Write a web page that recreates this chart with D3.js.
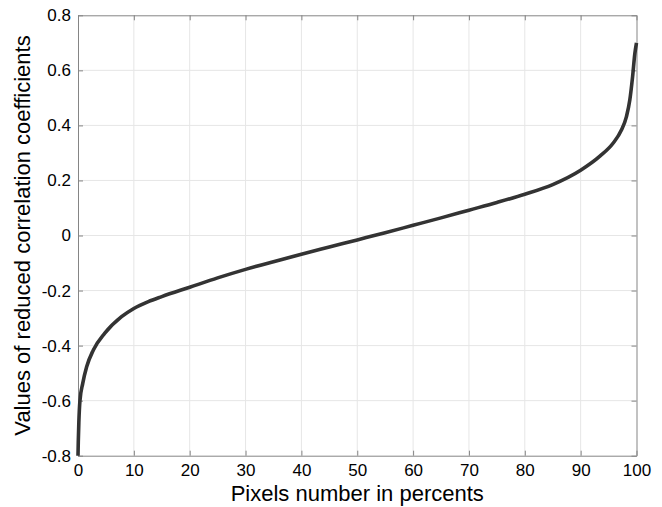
<!DOCTYPE html>
<html>
<head>
<meta charset="utf-8">
<script src="https://cdn.jsdelivr.net/npm/d3@7"></script>
<style>
  body { margin: 0; background: #fff; }
  text { font-family: "Liberation Sans", Arial, sans-serif; fill: #000; }
</style>
</head>
<body>
<svg id="chart" width="662" height="507"></svg>
<script>
// sorted reduced correlation coefficients
let percent = [0, 0.05, 0.15, 0.35, 0.85, 1.55, 2.75, 4.8, 7.8, 10, 12.6, 15, 20, 25, 30, 35,
  40, 45, 50, 55, 60, 65, 70, 75, 80, 85, 90, 93.5, 95.8, 97.3, 98.2, 98.8, 99.3, 99.7, 100]
let values = [-0.8, -0.75, -0.68, -0.6, -0.537, -0.477, -0.416, -0.355, -0.295, -0.265, -0.24,
  -0.222, -0.188, -0.154, -0.123, -0.095, -0.068, -0.042, -0.016, 0.01, 0.037, 0.064, 0.092,
  0.12, 0.15, 0.185, 0.237, 0.289, 0.335, 0.383, 0.432, 0.492, 0.577, 0.66, 0.70]

let xTicks = [0, 10, 20, 30, 40, 50, 60, 70, 80, 90, 100]
let yTicks = [-0.8, -0.6, -0.4, -0.2, 0, 0.2, 0.4, 0.6, 0.8]

let xLabel = "Pixels number in percents"
let yLabel = "Values of reduced correlation coefficients"

let margin = {top: 15.3, right: 25.5, bottom: 51.3, left: 78}
let width = 662, height = 507

let svg = d3.select("#chart")

let x = d3.scaleLinear()
  .domain([0, 100])
  .range([margin.left, width - margin.right])
let y = d3.scaleLinear()
  .domain([-0.8, 0.8])
  .range([height - margin.bottom, margin.top])

let axisColor = "#858585"
let gridColor = "#e6e6e6"

// grid
let grid = svg.append("g")
grid.selectAll(".gx")
  .data(xTicks.slice(1, -1)).enter()
  .append("line")
  .attr("x1", d => x(d)).attr("x2", d => x(d))
  .attr("y1", y(0.8)).attr("y2", y(-0.8))
  .attr("stroke", gridColor).attr("stroke-width", 1)
grid.selectAll(".gy")
  .data(yTicks.slice(1, -1)).enter()
  .append("line")
  .attr("x1", x(0)).attr("x2", x(100))
  .attr("y1", d => y(d)).attr("y2", d => y(d))
  .attr("stroke", gridColor).attr("stroke-width", 1)

// axes (MATLAB-like box, ticks inward on every side)
let fmt = d => d === 0 ? "0" : d3.format(".1f")(d).replace("−", "-")

function styleAxis(g, labels) {
  g.select(".domain").attr("stroke", axisColor)
  g.selectAll(".tick line").attr("stroke", axisColor)
  g.selectAll(".tick text")
    .style("font-size", "17px")
    .style("font-family", "'Liberation Sans', Arial, sans-serif")
    .attr("fill", "#000")
  if (!labels) g.selectAll(".tick text").remove()
}

svg.append("g")
  .attr("transform", `translate(0, ${y(-0.8)})`)
  .call(d3.axisBottom(x).tickValues(xTicks).tickSizeInner(-5).tickSizeOuter(0).tickPadding(8))
  .call(g => styleAxis(g, true))

svg.append("g")
  .attr("transform", `translate(0, ${y(0.8)})`)
  .call(d3.axisTop(x).tickValues(xTicks).tickSizeInner(-5).tickSizeOuter(0))
  .call(g => styleAxis(g, false))

svg.append("g")
  .attr("transform", `translate(${x(0)}, 0)`)
  .call(d3.axisLeft(y).tickValues(yTicks).tickFormat(fmt).tickSizeInner(-5).tickSizeOuter(0).tickPadding(7))
  .call(g => styleAxis(g, true))

svg.append("g")
  .attr("transform", `translate(${x(100)}, 0)`)
  .call(d3.axisRight(y).tickValues(yTicks).tickSizeInner(-5).tickSizeOuter(0))
  .call(g => styleAxis(g, false))

// curve
let line = d3.line()
  .x((d, i) => x(percent[i]))
  .y(d => y(d))
  .curve(d3.curveMonotoneX)

svg.append("path")
  .datum(values)
  .attr("d", line)
  .attr("fill", "none")
  .attr("stroke", "#333333")
  .attr("stroke-width", 3.6)

// axis labels
svg.append("text")
  .attr("x", (x(0) + x(100)) / 2)
  .attr("y", 501)
  .attr("text-anchor", "middle")
  .style("font-size", "22px")
  .text(xLabel)

svg.append("text")
  .attr("transform", `translate(30, ${(y(0.8) + y(-0.8)) / 2}) rotate(-90)`)
  .attr("text-anchor", "middle")
  .style("font-size", "22px")
  .text(yLabel)
</script>
</body>
</html>
